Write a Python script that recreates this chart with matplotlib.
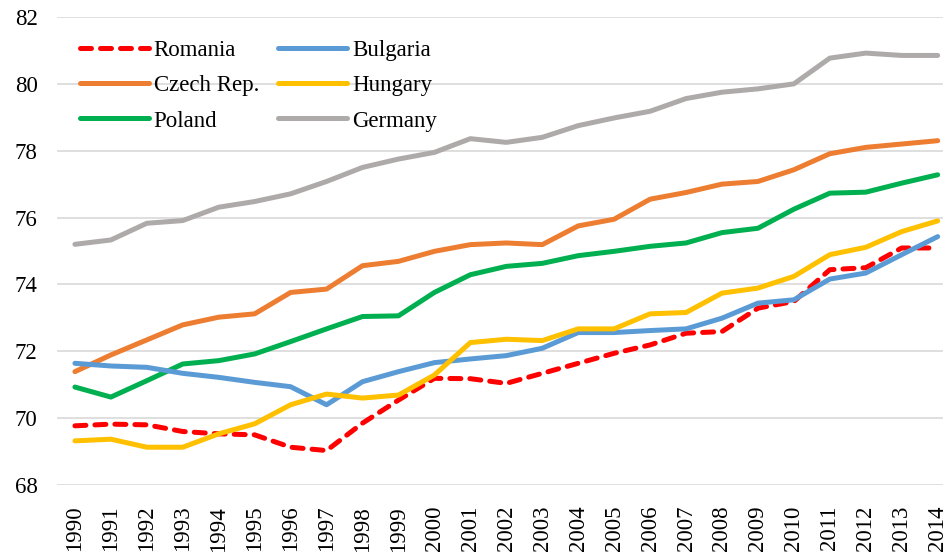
import matplotlib
matplotlib.use("Agg")
import matplotlib.pyplot as plt

years = list(range(1990, 2015))

romania = [69.77, 69.82, 69.80, 69.60, 69.53, 69.50, 69.13, 69.03, 69.85, 70.54,
           71.19, 71.18, 71.04, 71.34, 71.64, 71.94, 72.19, 72.54, 72.59, 73.29,
           73.49, 74.44, 74.50, 75.09, 75.09]
bulgaria = [71.64, 71.56, 71.52, 71.34, 71.22, 71.07, 70.94, 70.40, 71.09, 71.39,
            71.66, 71.77, 71.87, 72.09, 72.56, 72.56, 72.62, 72.67, 72.99, 73.44,
            73.54, 74.16, 74.34, 74.89, 75.43]
czech = [71.39, 71.89, 72.34, 72.79, 73.02, 73.12, 73.76, 73.86, 74.56, 74.69,
         74.99, 75.19, 75.24, 75.19, 75.75, 75.95, 76.55, 76.75, 77.00, 77.08,
         77.43, 77.91, 78.10, 78.20, 78.30]
hungary = [69.32, 69.37, 69.13, 69.13, 69.53, 69.83, 70.40, 70.72, 70.60, 70.69,
           71.29, 72.26, 72.36, 72.32, 72.67, 72.67, 73.12, 73.16, 73.74, 73.89,
           74.24, 74.89, 75.11, 75.58, 75.90]
poland = [70.93, 70.63, 71.12, 71.62, 71.72, 71.92, 72.29, 72.67, 73.04, 73.06,
          73.76, 74.29, 74.54, 74.63, 74.86, 74.99, 75.14, 75.24, 75.55, 75.68,
          76.25, 76.73, 76.76, 77.03, 77.28]
germany = [75.20, 75.33, 75.83, 75.91, 76.31, 76.48, 76.71, 77.08, 77.50, 77.75,
           77.95, 78.36, 78.25, 78.40, 78.75, 78.98, 79.18, 79.56, 79.75, 79.85,
           80.00, 80.77, 80.92, 80.85, 80.85]

plt.rcParams['font.family'] = ['Liberation Serif', 'DejaVu Serif']

fig = plt.figure(figsize=(9.43, 5.52), dpi=100)
ax = fig.add_axes([0.0604, 0.1214, 0.953, 0.8478])

x = list(range(len(years)))
lw = 3.6
ax.plot(x, romania, color='#FF0000', lw=lw, dashes=(2.2, 1.8),
        dash_capstyle='round', label='Romania', zorder=3)
ax.plot(x, czech, color='#ED7D31', lw=lw, solid_capstyle='round', label='Czech Rep.', zorder=3)
ax.plot(x, poland, color='#00B050', lw=lw, solid_capstyle='round', label='Poland', zorder=3)
ax.plot(x, bulgaria, color='#5B9BD5', lw=lw, solid_capstyle='round', label='Bulgaria', zorder=3)
ax.plot(x, hungary, color='#FFC000', lw=lw, solid_capstyle='round', label='Hungary', zorder=3)
ax.plot(x, germany, color='#AEAAAA', lw=lw, solid_capstyle='round', label='Germany', zorder=3)

ax.set_xlim(-0.5, 24.5)
ax.set_ylim(68, 82)
ax.set_yticks(range(68, 83, 2))
ax.set_xticks(x)
ax.set_xticklabels([str(y) for y in years], rotation=90)
ax.tick_params(axis='both', length=0, labelsize=16.5)
ax.tick_params(axis='x', pad=15)
ax.tick_params(axis='y', pad=14)
ax.grid(axis='y', color='#D9D9D9', lw=1.2)
ax.set_axisbelow(True)
for s in ax.spines.values():
    s.set_visible(False)

ax.legend(ncol=2, frameon=False, fontsize=16.5, loc='upper left',
          bbox_to_anchor=(0.003, 0.995), handlelength=3.0, columnspacing=0.85,
          labelspacing=0.62, handletextpad=0.2)

fig.savefig('out.png', dpi=100)
